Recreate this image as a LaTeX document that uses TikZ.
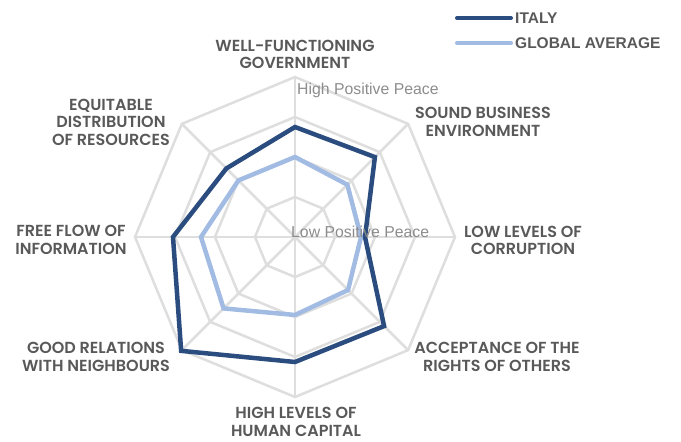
\documentclass[tikz,border=0pt]{standalone}
\usepackage{fontspec}
\setmainfont{Liberation Sans}
\newfontfamily\catfont{Poppins}[BoldFont={Poppins SemiBold}]
\usepackage{xcolor}
\definecolor{italyblue}{HTML}{2B4C7E}
\definecolor{globalblue}{HTML}{A2BBE3}
\definecolor{gridgray}{HTML}{DEDEDE}
\definecolor{labelgray}{HTML}{595959}
\definecolor{peacegray}{HTML}{8C8C8C}
\usetikzlibrary{positioning}

\tikzset{
  gridline/.style={draw=gridgray, line width=2.5pt},
  italyline/.style={draw=italyblue, line width=4.5pt},
  globalline/.style={draw=globalblue, line width=4.5pt},
  catlabel/.style={align=center, text=labelgray, font=\catfont\bfseries\fontsize{16}{17.5}\selectfont, inner sep=0pt},
  peacelabel/.style={anchor=west, text=peacegray, font=\fontsize{15.8}{17}\selectfont, inner sep=0pt},
  legendtext/.style={anchor=west, text=labelgray, font=\bfseries\fontsize{15.5}{17}\selectfont, inner sep=0pt}
}

\begin{document}
\begin{tikzpicture}[x=1pt, y=1pt]
        \useasboundingbox (0, 0) rectangle (681, 442);

        \begin{scope}[shift={(295, 205)}]
        % octagon rings and spokes
        \foreach \r in {40, 80, 120, 160}
            \draw[gridline] (0:\r) \foreach \a in {45, 90, ..., 315} { -- (\a:\r) } -- cycle;
        \foreach \a in {0, 45, ..., 315}
            \draw[gridline] (0, 0) -- (\a:160);

        % global average
        \draw[globalline] (90:80) -- (45:74) -- (0:66) -- (-45:75)
            -- (-90:78) -- (-135:101) -- (180:94) -- (135:80) -- cycle;

        % italy
        \draw[italyline] (90:110) -- (45:113) -- (0:70) -- (-45:126)
            -- (-90:125) -- (-135:161) -- (180:122) -- (135:97) -- cycle;
        \end{scope}

        % scale labels
        \node[peacelabel] (high) at (297, 352) {High Positive Peace};
        \node[peacelabel] (low)  at (291, 210) {Low Positive Peace};

        % categories
        \node[catlabel] (gov)        at (295, 387.5) {WELL-FUNCTIONING\\GOVERNMENT};
        \node[catlabel] (business)   at (483, 320)   {SOUND BUSINESS\\ENVIRONMENT};
        \node[catlabel] (corruption) at (523, 201.5) {LOW LEVELS OF\\CORRUPTION};
        \node[catlabel] (acceptance) at (497, 85)    {ACCEPTANCE OF THE\\RIGHTS OF OTHERS};
        \node[catlabel] (human)      at (296, 20)    {HIGH LEVELS OF\\HUMAN CAPITAL};
        \node[catlabel] (relations)  at (96, 85)     {GOOD RELATIONS\\WITH NEIGHBOURS};
        \node[catlabel] (flow)       at (71, 202)    {FREE FLOW OF\\INFORMATION};
        \node[catlabel] (equitable)  at (111, 320)   {EQUITABLE\\DISTRIBUTION\\OF RESOURCES};

        % legend
        \coordinate (italyA)  at (457, 424);
        \coordinate (italyB)  at (511, 424);
        \coordinate (globalA) at (457, 399);
        \coordinate (globalB) at (511, 399);
        \draw[italyline, line width=4pt, line cap=round]  (italyA) -- (italyB);
        \draw[globalline, line width=4pt, line cap=round] (globalA) -- (globalB);
        \node[legendtext, right=4pt of italyB]  (italy)  {ITALY};
        \node[legendtext, right=4pt of globalB] (global) {GLOBAL AVERAGE};
\end{tikzpicture}
\end{document}
